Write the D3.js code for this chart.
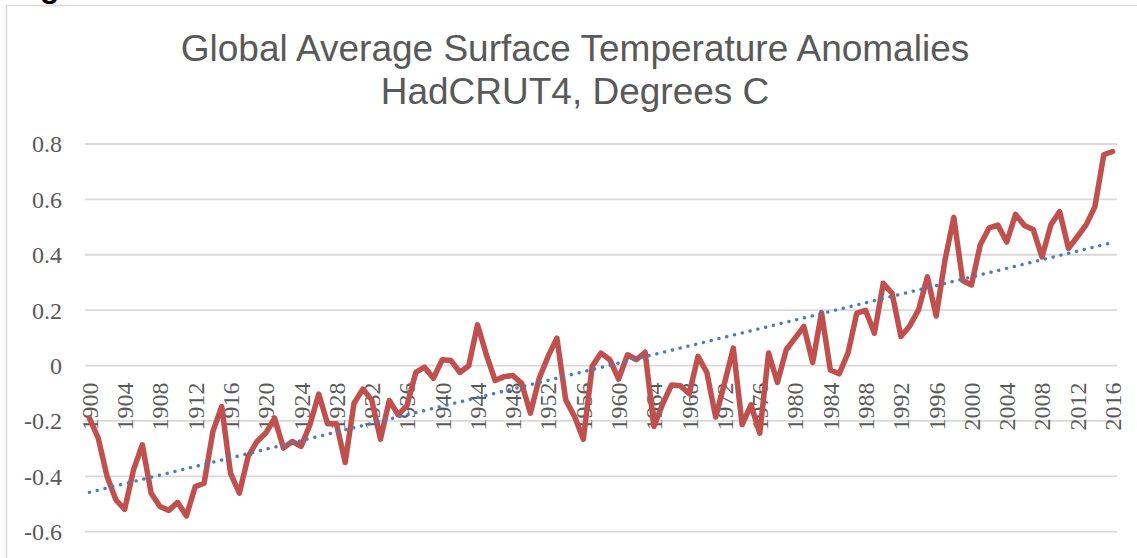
<!DOCTYPE html>
<html>
<head>
<meta charset="utf-8">
<script src="https://cdn.jsdelivr.net/npm/d3@7"></script>
<style>
  html, body { margin: 0; padding: 0; background: #fff; overflow: hidden; }
  svg { display: block; }
</style>
</head>
<body>
<svg id="chart" width="1137" height="558"></svg>
<script>
// ── data ──
const firstYear = 1900, lastYear = 2016;
const years = d3.range(firstYear, lastYear + 1);
const anomalies = [
  -0.19, -0.262, -0.40, -0.485, -0.519, -0.377, -0.286, -0.461, -0.509, -0.523,   // 1900s
  -0.494, -0.543, -0.437, -0.425, -0.238, -0.148, -0.389, -0.461, -0.328, -0.274, // 1910s
  -0.244, -0.19, -0.298, -0.274, -0.292, -0.214, -0.103, -0.21, -0.21, -0.35,     // 1920s
  -0.136, -0.085, -0.124, -0.266, -0.126, -0.178, -0.145, -0.025, -0.006, -0.046, // 1930s
  0.021, 0.018, -0.025, -0.001, 0.147, 0.039, -0.054, -0.04, -0.036, -0.064,      // 1940s
  -0.172, -0.046, 0.033, 0.099, -0.124, -0.184, -0.266, -0.003, 0.045, 0.021,     // 1950s
  -0.049, 0.039, 0.021, 0.048, -0.22, -0.138, -0.07, -0.073, -0.102, 0.033,       // 1960s
  -0.025, -0.186, -0.064, 0.063, -0.214, -0.142, -0.244, 0.045, -0.061, 0.057,    // 1970s
  0.099, 0.141, 0.011, 0.191, -0.016, -0.03, 0.045, 0.189, 0.199, 0.117,          // 1980s
  0.297, 0.261, 0.105, 0.143, 0.201, 0.32, 0.179, 0.381, 0.535, 0.307,            // 1990s
  0.291, 0.436, 0.497, 0.507, 0.446, 0.546, 0.506, 0.491, 0.392, 0.508,           // 2000s
  0.556, 0.423, 0.465, 0.508, 0.574, 0.761, 0.773                                  // 2010s
];
const yTicks = [-0.6, -0.4, -0.2, 0, 0.2, 0.4, 0.6, 0.8];
const yTickLabels = ['-0.6', '-0.4', '-0.2', '0', '0.2', '0.4', '0.6', '0.8'];
const titleLines = ['Global Average Surface Temperature Anomalies', 'HadCRUT4, Degrees C'];

const data = years.map((yr, i) => ({ year: yr, value: anomalies[i] }));

// ── layout ──
const plot = { left: 85, right: 1117, top: 144, bottom: 531.7 };
const grey = '#595959';

const svg = d3.select('#chart');

// chart area frame (runs off the right and bottom edge)
svg.append('rect')
  .attr('x', 6.5).attr('y', 5.5)
  .attr('width', 1200).attr('height', 600)
  .attr('fill', '#fff')
  .attr('stroke', '#d9d9d9')
  .attr('stroke-width', 1.5);

// cut-off heading glyph above the frame
svg.append('text')
  .attr('x', 40).attr('y', -3)
  .attr('font-family', 'Liberation Sans, Arial, sans-serif')
  .attr('font-weight', 'bold')
  .attr('font-size', 32)
  .attr('fill', '#000')
  .text('g');

const x = d3.scaleBand().domain(years).range([plot.left, plot.right]);
const cx = yr => x(yr) + x.bandwidth() / 2;
const y = d3.scaleLinear().domain([-0.6, 0.8]).range([plot.bottom, plot.top]);

// title
svg.append('g').selectAll('text').data(titleLines).join('text')
  .attr('x', 575)
  .attr('y', (d, i) => 61 + i * 43)
  .attr('text-anchor', 'middle')
  .attr('font-family', 'Liberation Sans, Arial, sans-serif')
  .attr('font-size', 37)
  .attr('fill', grey)
  .text(d => d);

// gridlines
svg.append('g').selectAll('line').data(yTicks).join('line')
  .attr('x1', plot.left).attr('x2', plot.right)
  .attr('y1', d => y(d)).attr('y2', d => y(d))
  .attr('stroke', '#d9d9d9')
  .attr('stroke-width', 1.8);

// y tick labels
svg.append('g').selectAll('text').data(yTicks).join('text')
  .attr('x', 62)
  .attr('y', d => y(d))
  .attr('dy', '0.35em')
  .attr('text-anchor', 'end')
  .attr('font-family', 'Liberation Serif, Cambria, serif')
  .attr('font-size', 24)
  .attr('fill', grey)
  .text((d, i) => yTickLabels[i]);

// x tick labels, every 4th year, hanging just under the zero line
const xLabelYears = years.filter(yr => (yr - firstYear) % 4 === 0);
svg.append('g').selectAll('text').data(xLabelYears).join('text')
  .attr('transform', d => `translate(${cx(d)},${y(0) + 17}) rotate(-90)`)
  .attr('dy', '0.35em')
  .attr('text-anchor', 'end')
  .attr('font-family', 'Liberation Serif, Cambria, serif')
  .attr('font-size', 24)
  .attr('fill', grey)
  .text(d => d);

// anomaly series
const line = d3.line().x(d => cx(d.year)).y(d => y(d.value));
svg.append('path')
  .datum(data)
  .attr('d', line)
  .attr('fill', 'none')
  .attr('stroke', '#c0504d')
  .attr('stroke-width', 5.5)
  .attr('stroke-linejoin', 'round')
  .attr('stroke-linecap', 'round');

// linear trendline (least squares over the series)
const mx = d3.mean(data, d => d.year), my = d3.mean(data, d => d.value);
const slope = d3.sum(data, d => (d.year - mx) * (d.value - my)) / d3.sum(data, d => (d.year - mx) ** 2);
const trend = [firstYear, lastYear].map(yr => ({ year: yr, value: my + slope * (yr - mx) }));
svg.append('path')
  .datum(trend)
  .attr('d', line)
  .attr('fill', 'none')
  .attr('stroke', '#4a7ebb')
  .attr('stroke-width', 3.4)
  .attr('stroke-linecap', 'round')
  .attr('stroke-dasharray', '0.1 7.9');
</script>
</body>
</html>
